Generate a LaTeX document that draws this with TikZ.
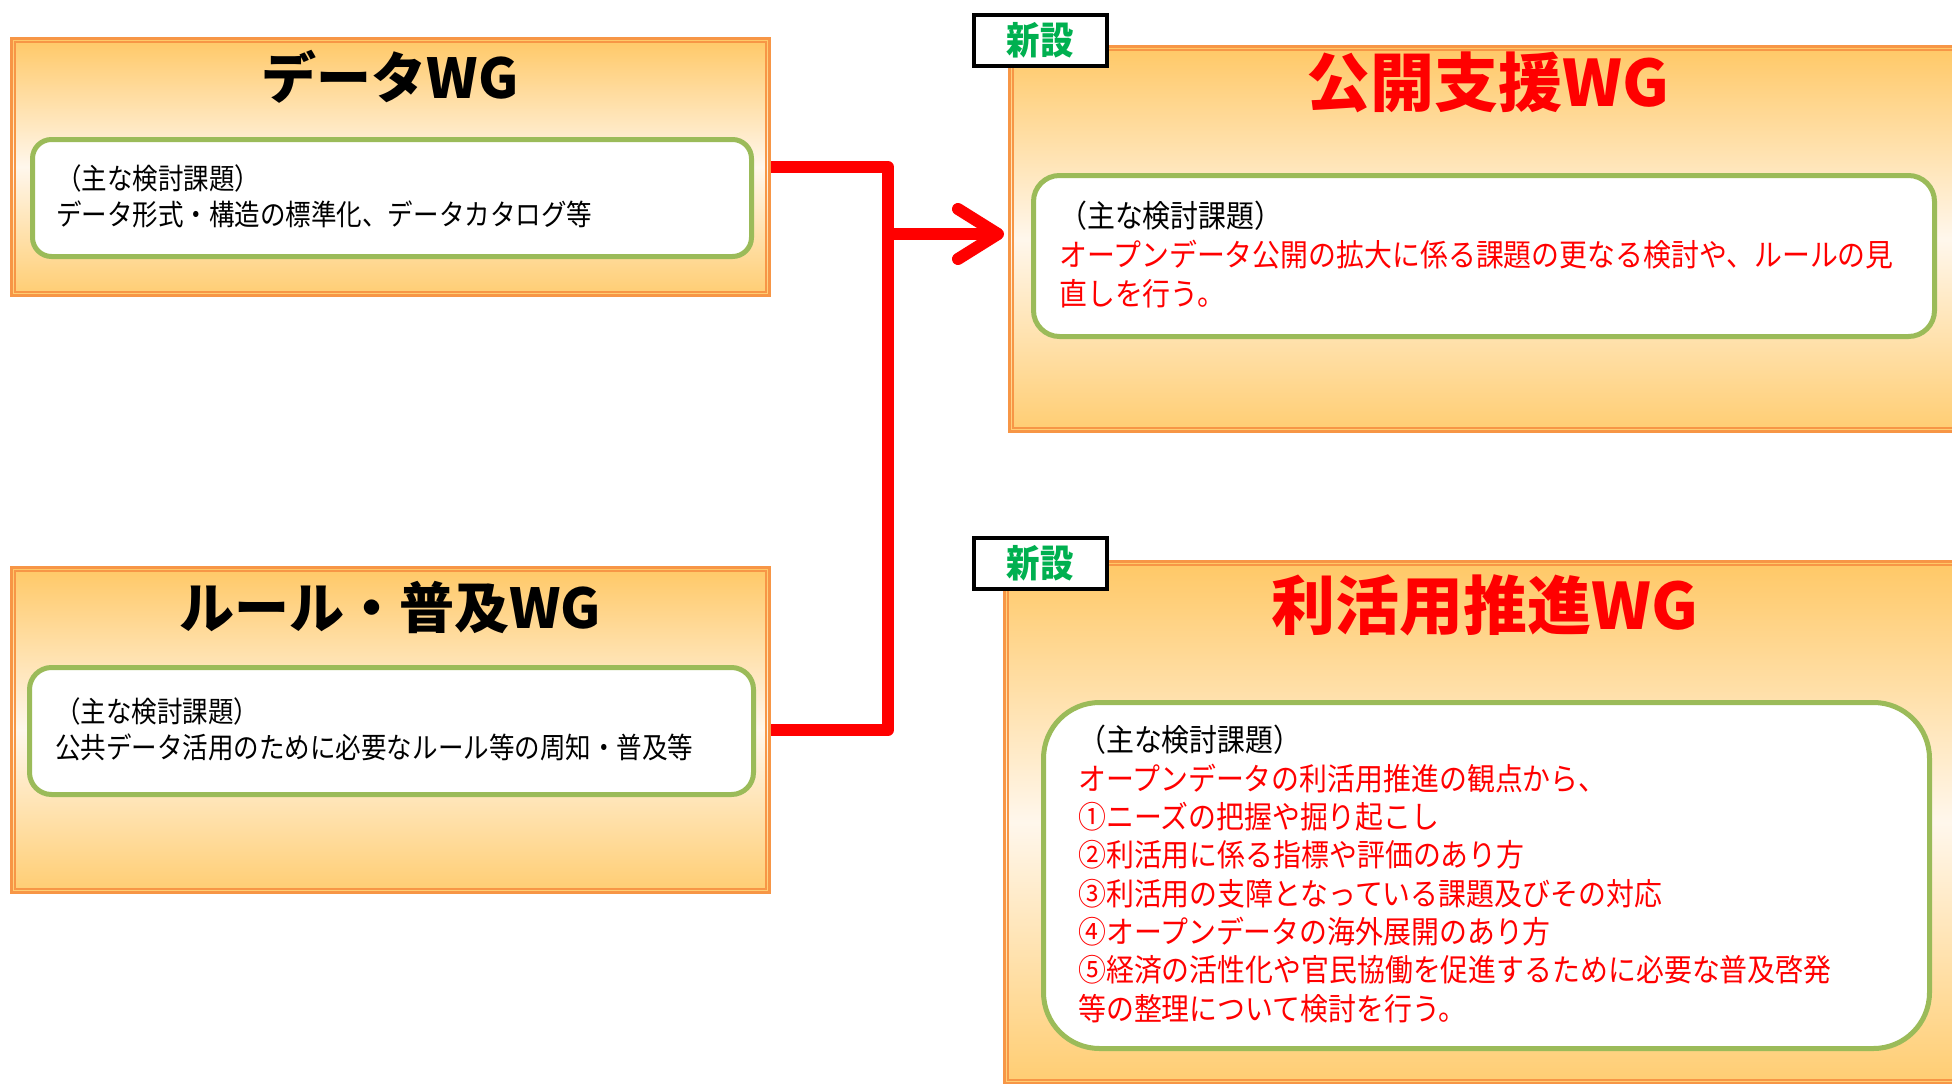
\documentclass[tikz,border=0pt]{standalone}
\usepackage{fontspec}
\setmainfont{Noto Sans CJK JP}
\newfontfamily\jp[FakeStretch=0.88]{Noto Sans CJK JP}
\newfontfamily\jpr[FakeStretch=0.90]{Noto Sans CJK JP}
\newfontfamily\jpt{Noto Sans CJK JP}
\usetikzlibrary{arrows.meta}
\definecolor{wgorange}{HTML}{F79646}
\definecolor{wgtop}{HTML}{FFC866}
\definecolor{wgmid}{HTML}{FFF7EC}
\definecolor{wgbot}{HTML}{FFCD72}
\definecolor{wggreen}{HTML}{9BBB59}
\definecolor{wgred}{HTML}{FF0000}
\definecolor{newgreen}{HTML}{00B050}
\tikzset{
  wgbox/.style={rectangle, anchor=north west, inner sep=0pt, draw=wgorange, line width=3pt,
    top color=wgtop, bottom color=wgbot, middle color=wgmid},
  wginner/.style={draw=wgorange, line width=1.6pt},
  topicbox/.style={rectangle, anchor=north west, inner sep=0pt, draw=wggreen, line width=5pt, fill=white},
  bodyleft/.style={anchor=west, align=left, inner sep=0pt, font=\jp\fontsize{29}{36}\selectfont},
  bodyright/.style={anchor=west, align=left, inner sep=0pt, font=\jpr\fontsize{31}{39}\selectfont},
  titleleft/.style={inner sep=0pt, font=\jpt\bfseries\fontsize{55}{60}\selectfont},
  titleright/.style={inner sep=0pt, text=wgred, font=\jpt\bfseries\fontsize{64}{70}\selectfont},
  newbadge/.style={rectangle, draw=black, line width=4pt, fill=white, minimum width=133pt, minimum height=51pt,
    inner sep=0pt, text=newgreen, font=\jp\bfseries\fontsize{38}{40}\selectfont},
  redline/.style={draw=wgred, line width=12pt, line join=round},
}
\begin{document}
\begin{tikzpicture}[x=1pt,y=-1pt]
\path[use as bounding box, fill=white] (0,0) rectangle (1952,1084);
\clip (0,0) rectangle (1952,1084);

% left boxes
\node[wgbox, minimum width=758pt, minimum height=257pt] (data) at (10,37) {};
\draw[wginner] ([xshift=5pt,yshift=-5pt]data.north west) rectangle ([xshift=-5pt,yshift=5pt]data.south east);
\node[titleleft] (datatitle) at (390,77) {データWG};
\node[topicbox, minimum width=719pt, minimum height=117pt, rounded corners=19pt] (datatopic) at (30,137) {};
\node[bodyleft] (datatext) at (56,196) {（主な検討課題）\\データ形式・構造の標準化、データカタログ等};

\node[wgbox, minimum width=758pt, minimum height=325pt] (rule) at (10,566) {};
\draw[wginner] ([xshift=5pt,yshift=-5pt]rule.north west) rectangle ([xshift=-5pt,yshift=5pt]rule.south east);
\node[titleleft] (ruletitle) at (390,607) {ルール・普及WG};
\node[topicbox, minimum width=724pt, minimum height=127pt, rounded corners=22pt] (ruletopic) at (27,665) {};
\node[bodyleft] (ruletext) at (55,729) {（主な検討課題）\\公共データ活用のために必要なルール等の周知・普及等};

% right boxes
\node[wgbox, minimum width=960pt, minimum height=385pt] (kokai) at (1008,45) {};
\draw[wginner] ([xshift=5pt,yshift=-5pt]kokai.north west) rectangle ([xshift=-5pt,yshift=5pt]kokai.south east);
\node[newbadge] (badge1) at (1040,40) {新設};
\node[titleright] (kokaititle) at (1488,82) {公開支援WG};
\node[topicbox, minimum width=901pt, minimum height=161pt, rounded corners=26pt] (kokaitopic) at (1031,173) {};
\node[bodyright] (kokaitext) at (1059,255) {（主な検討課題）\\\color{wgred}オープンデータ公開の拡大に係る課題の更なる検討や、ルールの見\\\color{wgred}直しを行う。};

\node[wgbox, minimum width=965pt, minimum height=522pt] (rikatsu) at (1003,560) {};
\draw[wginner] ([xshift=5pt,yshift=-5pt]rikatsu.north west) rectangle ([xshift=-5pt,yshift=5pt]rikatsu.south east);
\node[newbadge] (badge2) at (1040,563) {新設};
\node[titleright] (rikatsutitle) at (1485,605) {利活用推進WG};
\node[topicbox, minimum width=886pt, minimum height=346pt, rounded corners=56pt] (rikatsutopic) at (1041,700) {};
\node[bodyright, font=\jpr\fontsize{31}{38.3}\selectfont] (rikatsutext) at (1078,874) {（主な検討課題）\\
\color{wgred}オープンデータの利活用推進の観点から、\\
\color{wgred}①ニーズの把握や掘り起こし\\
\color{wgred}②利活用に係る指標や評価のあり方\\
\color{wgred}③利活用の支障となっている課題及びその対応\\
\color{wgred}④オープンデータの海外展開のあり方\\
\color{wgred}⑤経済の活性化や官民協働を促進するために必要な普及啓発\\
\color{wgred}等の整理について検討を行う。};

% connectors
\coordinate (bus) at (888,234);
\draw[redline] (data.east) -- (data.east -| bus) -- (rule.east -| bus) -- (rule.east);
\draw[redline, -{Straight Barb[length=40pt, width=50pt, round]}] (bus) -- ([xshift=-4pt]kokai.west |- bus);
\end{tikzpicture}
\end{document}
